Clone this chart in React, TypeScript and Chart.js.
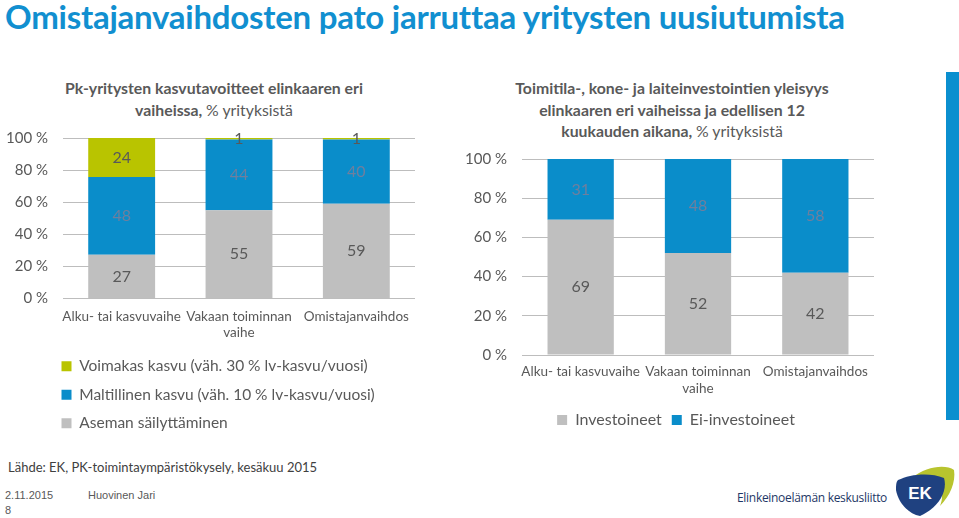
import React, { useEffect, useRef } from 'react';
import { Chart, registerables } from 'chart.js';

Chart.register(...registerables);

// ---------- data ----------
const stageLabels = [['Alku- tai kasvuvaihe'], ['Vakaan toiminnan', 'vaihe'], ['Omistajanvaihdos']];
const strongGrowth = [24, 1, 1];
const moderateGrowth = [48, 44, 40];
const keepPosition = [27, 55, 59];
const investedShare = [69, 52, 42];
const notInvestedShare = [31, 48, 58];
const percentTicks = [0, 20, 40, 60, 80, 100];

const growthSeriesNames = [
  'Aseman säilyttäminen',
  'Maltillinen kasvu (väh. 10 % lv-kasvu/vuosi)',
  'Voimakas kasvu (väh. 30 % lv-kasvu/vuosi)',
];
const investSeriesNames = ['Investoineet', 'Ei-investoineet'];

// ---------- styles ----------
const FONT = 'Lato, "Open Sans", sans-serif';
const GREEN = '#b9c400';
const BLUE = '#0a8dca';
const GRAY = '#bfbfbf';
const TEXT = '#595959';
const TEXT_ON_BLUE = '#6f7f9e';
const GRID = '#bdbdbd';

const valueLabels = {
  id: 'valueLabels',
  afterDatasetsDraw(chart: any) {
    const { ctx } = chart;
    ctx.save();
    ctx.textAlign = 'center';
    ctx.textBaseline = 'middle';
    ctx.font = `16px ${FONT}`;
    chart.data.datasets.forEach((ds: any, i: number) => {
      const meta = chart.getDatasetMeta(i);
      if (meta.hidden) return;
      ctx.fillStyle = ds.labelColor;
      meta.data.forEach((el: any, j: number) => {
        const p = el.getProps(['x', 'y', 'base'], true);
        ctx.fillText(String(ds.rawValues[j]), p.x, (p.y + p.base) / 2);
      });
    });
    ctx.restore();
  },
};

const shiftLegend = {
  id: 'shiftLegend',
  afterLayout(chart: any, _args: any, opts: any) {
    if (opts && opts.dx && chart.legend) {
      chart.legend.left += opts.dx;
      chart.legend.right += opts.dx;
    }
  },
};

function makeScales(yWidth: number, xHeight: number, xPad: number) {
  return {
    x: {
      stacked: true,
      grid: { display: false, drawTicks: false },
      border: { display: false },
      ticks: { color: TEXT, font: { family: FONT, size: 13.5 }, padding: xPad, maxRotation: 0, autoSkip: false },
      afterFit: (s: any) => { s.height = xHeight; },
    },
    y: {
      stacked: true,
      min: 0,
      max: 100,
      grid: { color: GRID, lineWidth: 1, drawTicks: false },
      border: { display: false },
      afterBuildTicks: (s: any) => { s.ticks = percentTicks.map((v) => ({ value: v })); },
      ticks: { color: TEXT, font: { family: FONT, size: 15 }, padding: 15, callback: (v: any) => `${v} %` },
      afterFit: (s: any) => { s.width = yWidth; },
    },
  };
}

function GrowthChart() {
  const ref = useRef<HTMLCanvasElement>(null);
  useEffect(() => {
    const totals = keepPosition.map((v, i) => v + moderateGrowth[i] + strongGrowth[i]);
    const share = (arr: number[]) => arr.map((v, i) => (v / totals[i]) * 100);
    const chart = new Chart(ref.current!, {
      type: 'bar',
      data: {
        labels: stageLabels as any,
        datasets: [
          { label: growthSeriesNames[0], data: share(keepPosition), backgroundColor: GRAY, rawValues: keepPosition, labelColor: TEXT } as any,
          { label: growthSeriesNames[1], data: share(moderateGrowth), backgroundColor: BLUE, rawValues: moderateGrowth, labelColor: TEXT_ON_BLUE } as any,
          { label: growthSeriesNames[2], data: share(strongGrowth), backgroundColor: GREEN, rawValues: strongGrowth, labelColor: TEXT } as any,
        ],
      },
      options: {
        animation: false,
        responsive: false,
        maintainAspectRatio: false,
        layout: { padding: { left: 0, right: 65, top: 0, bottom: 0 } },
        datasets: { bar: { categoryPercentage: 1, barPercentage: 0.57 } },
        scales: makeScales(63, 47, 10) as any,
        plugins: {
          legend: {
            position: 'bottom',
            align: 'start',
            reverse: true,
            labels: { color: TEXT, font: { family: FONT, size: 15.5 }, boxWidth: 10, boxHeight: 10, padding: 13 },
          },
          tooltip: { enabled: false },
          shiftLegend: { dx: 48.5 },
        } as any,
      },
      plugins: [valueLabels, shiftLegend],
    });
    return () => chart.destroy();
  }, []);
  return <canvas ref={ref} width={480} height={327} style={{ position: 'absolute', left: 0, top: 114, width: 480, height: 327 }} />;
}

function InvestChart() {
  const ref = useRef<HTMLCanvasElement>(null);
  useEffect(() => {
    const chart = new Chart(ref.current!, {
      type: 'bar',
      data: {
        labels: stageLabels as any,
        datasets: [
          { label: investSeriesNames[0], data: investedShare, backgroundColor: GRAY, rawValues: investedShare, labelColor: TEXT } as any,
          { label: investSeriesNames[1], data: notInvestedShare, backgroundColor: BLUE, rawValues: notInvestedShare, labelColor: TEXT_ON_BLUE } as any,
        ],
      },
      options: {
        animation: false,
        responsive: false,
        maintainAspectRatio: false,
        layout: { padding: { left: 0, right: 26, top: 0, bottom: 0 } },
        datasets: { bar: { categoryPercentage: 1, barPercentage: 0.565 } },
        scales: makeScales(62, 47, 9) as any,
        plugins: {
          legend: {
            position: 'bottom',
            align: 'center',
            labels: { color: TEXT, font: { family: FONT, size: 16 }, boxWidth: 10, boxHeight: 10, padding: 10 },
          },
          tooltip: { enabled: false },
          shiftLegend: { dx: 9 },
        } as any,
      },
      plugins: [valueLabels, shiftLegend],
    });
    return () => chart.destroy();
  }, []);
  return <canvas ref={ref} width={440} height={303} style={{ position: 'absolute', left: 460, top: 135, width: 440, height: 303 }} />;
}

const chartTitleStyle: React.CSSProperties = {
  position: 'absolute',
  textAlign: 'center',
  fontFamily: FONT,
  fontWeight: 700,
  fontSize: 15.8,
  lineHeight: '21.5px',
  color: TEXT,
  whiteSpace: 'nowrap',
};

export default function App() {
  return (
    <div style={{ position: 'absolute', left: 0, top: 0, width: 959, height: 518, overflow: 'hidden', background: '#fff', fontFamily: FONT }}>
      <div style={{ position: 'absolute', left: 5, top: -4, fontFamily: FONT, fontWeight: 700, fontSize: 33, letterSpacing: -0.25, color: '#118fd0', whiteSpace: 'nowrap' }}>
        Omistajanvaihdosten pato jarruttaa yritysten uusiutumista
      </div>

      <div style={{ ...chartTitleStyle, left: 14, width: 400, top: 77 }}>
        Pk-yritysten kasvutavoitteet elinkaaren eri<br />
        vaiheissa, <span style={{ fontWeight: 400 }}>% yrityksistä</span>
      </div>
      <div style={{ ...chartTitleStyle, left: 472, width: 400, top: 77 }}>
        Toimitila-, kone- ja laiteinvestointien yleisyys<br />
        elinkaaren eri vaiheissa ja edellisen 12<br />
        kuukauden aikana, <span style={{ fontWeight: 400 }}>% yrityksistä</span>
      </div>

      <GrowthChart />
      <InvestChart />

      <div style={{ position: 'absolute', left: 946, top: 72, width: 13, height: 348, background: '#0a8fcf' }} />

      <div style={{ position: 'absolute', left: 8, top: 459, fontSize: 13, color: '#404040', whiteSpace: 'nowrap' }}>
        Lähde: EK, PK-toimintaympäristökysely, kesäkuu 2015
      </div>
      <div style={{ position: 'absolute', left: 5, top: 489, fontFamily: '"Liberation Sans", Arial, sans-serif', fontSize: 11, color: '#595959', whiteSpace: 'nowrap' }}>
        2.11.2015
      </div>
      <div style={{ position: 'absolute', left: 88, top: 489, fontFamily: '"Liberation Sans", Arial, sans-serif', fontSize: 11, color: '#595959', whiteSpace: 'nowrap' }}>
        Huovinen Jari
      </div>
      <div style={{ position: 'absolute', left: 5, top: 504, fontFamily: '"Liberation Sans", Arial, sans-serif', fontSize: 11, color: '#595959' }}>
        8
      </div>
      <div style={{ position: 'absolute', left: 737, top: 489, fontFamily: '"Open Sans", sans-serif', fontSize: 12, letterSpacing: -0.3, color: '#1e3766', whiteSpace: 'nowrap' }}>
        Elinkeinoelämän keskusliitto
      </div>
      <svg style={{ position: 'absolute', left: 890, top: 462 }} width={69} height={56} viewBox="0 0 69 56">
        <path d="M22 16 C36 4 56 2 64 8 C66 20 60 34 50 44 C56 30 50 20 22 16 Z" fill="#b8c42e" />
        <path d="M8 18 C20 12 40 10 54 16 C58 30 48 46 30 54 C18 52 8 40 6 28 C6 23 6 20 8 18 Z" fill="#1f4180" />
        <text x="30" y="37" textAnchor="middle" fontFamily="Liberation Sans, Arial, sans-serif" fontWeight="700" fontSize="17" fill="#fff">EK</text>
      </svg>
    </div>
  );
}
